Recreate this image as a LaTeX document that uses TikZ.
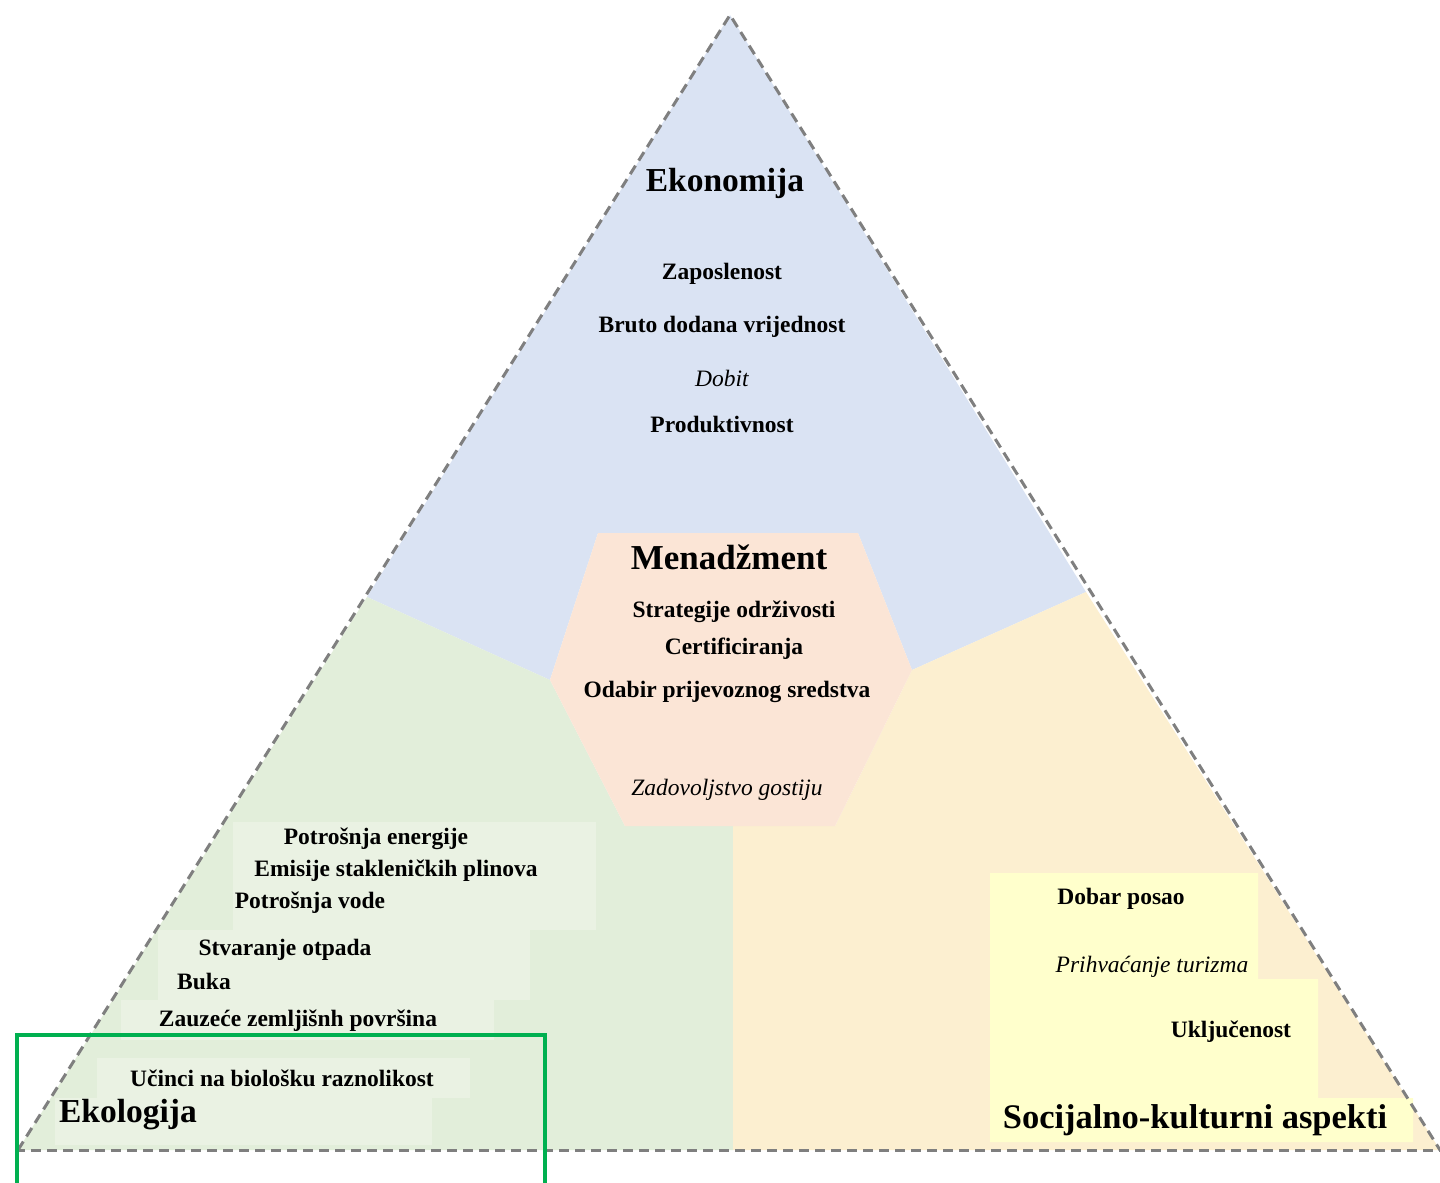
\documentclass[tikz,border=0pt]{standalone}
\usepackage{fontspec}
\setmainfont{Liberation Serif}
\definecolor{ecoblue}{HTML}{DAE3F3}
\definecolor{ecogreen}{HTML}{E2EEDA}
\definecolor{boxgreen}{HTML}{EAF2E3}
\definecolor{ecoyellow}{HTML}{FCEFD0}
\definecolor{boxyellow}{HTML}{FFFFCC}
\definecolor{hexpeach}{HTML}{FBE5D6}
\definecolor{dashgray}{HTML}{7F7F7F}
\definecolor{framegreen}{HTML}{00B050}
\begin{document}
\begin{tikzpicture}[x=1pt,y=-1pt,
  item/.style={font=\fontsize{23.5}{26}\selectfont\bfseries, inner sep=0pt},
  itemit/.style={font=\fontsize{23.5}{26}\selectfont\itshape, inner sep=0pt},
  head/.style={font=\fontsize{33.5}{36}\selectfont\bfseries, inner sep=0pt},
  edgeline/.style={draw=dashgray, line width=3pt, dash pattern=on 10pt off 6pt},
]
\useasboundingbox (0,0) rectangle (1440,1183);
% corner and boundary points
\coordinate (A) at (730,15);
\coordinate (BL) at (18,1150);
\coordinate (BR) at (1440,1150);
\coordinate (L1) at (367,597);
\coordinate (R1) at (1086,592);
\coordinate (HL) at (550,680);
\coordinate (HTL) at (598,533);
\coordinate (HTR) at (858,533);
\coordinate (HR) at (912,670);
\coordinate (HBR) at (835,826);
\coordinate (HBL) at (625,826);
\coordinate (M1) at (733,826);
\coordinate (M2) at (733,1150);
% regions
\fill[ecoblue] (A) -- (L1) -- (HL) -- (HTL) -- (HTR) -- (HR) -- (R1) -- cycle;
\fill[ecogreen] (L1) -- (BL) -- (M2) -- (M1) -- (HBL) -- (HL) -- cycle;
\fill[ecoyellow] (R1) -- (BR) -- (M2) -- (M1) -- (HBR) -- (HR) -- cycle;
\fill[hexpeach] (HL) -- (HTL) -- (HTR) -- (HR) -- (HBR) -- (HBL) -- cycle;
% lighter text boxes in the ecology region
\begin{scope}
\clip (L1) -- (BL) -- (M2) -- (M1) -- (HBL) -- (HL) -- cycle;
\fill[boxgreen] (233,822) rectangle (596,930);
\fill[boxgreen] (158,930) rectangle (530,1000);
\fill[boxgreen] (121,1000) rectangle (494,1040);
\fill[boxgreen] (97,1058) rectangle (470,1098);
\fill[boxgreen] (55,1098) rectangle (432,1145);
\end{scope}
% yellow text box in socio-cultural region
\fill[boxyellow] (990,873) -- (1258,873) -- (1258,979) -- (1318,979) -- (1318,1098)
  -- (1413,1098) -- (1413,1142) -- (990,1142) -- cycle;
% dashed outline
\draw[edgeline] (BL) -- (A) -- (BR);
\draw[edgeline] (15,1150) -- (BR);
% economy
\node[head] (eko) at (725,183) {Ekonomija};
\node[item] (zap) at (722,274) {Zaposlenost};
\node[item] (bdv) at (722,327) {Bruto dodana vrijednost};
\node[itemit] (dob) at (722,378) {Dobit};
\node[item] (pro) at (722,424) {Produktivnost};
% management
\node[head, font=\fontsize{35}{38}\selectfont\bfseries] (men) at (729,557) {Menadžment};
\node[item] (str) at (734,612) {Strategije održivosti};
\node[item] (cer) at (734,649) {Certificiranja};
\node[item] (oda) at (727,692) {Odabir prijevoznog sredstva};
\node[itemit] (zad) at (727,790) {Zadovoljstvo gostiju};
% ecology
\node[item] (pen) at (376,839) {Potrošnja energije};
\node[item] (emi) at (396,871) {Emisije stakleničkih plinova};
\node[item] (pvo) at (310,903) {Potrošnja vode};
\node[item] (stv) at (285,950) {Stvaranje otpada};
\node[item] (buk) at (204,981) {Buka};
\node[item] (zau) at (298,1021) {Zauzeće zemljišnh površina};
\node[item] (uci) at (282,1078) {Učinci na biološku raznolikost};
\node[head] (ekol) at (128,1115) {Ekologija};
% socio-cultural
\node[item] (dpo) at (1121,899) {Dobar posao};
\node[itemit] (pri) at (1152,967) {Prihvaćanje turizma};
\node[item] (ukl) at (1231,1032) {Uključenost};
\node[head, font=\fontsize{34.5}{37}\selectfont\bfseries] (soc) at (1195,1120) {Socijalno-kulturni aspekti};
% green highlight frame
\draw[framegreen, line width=4pt] (17,1035) rectangle (545,1195);
\end{tikzpicture}
\end{document}
